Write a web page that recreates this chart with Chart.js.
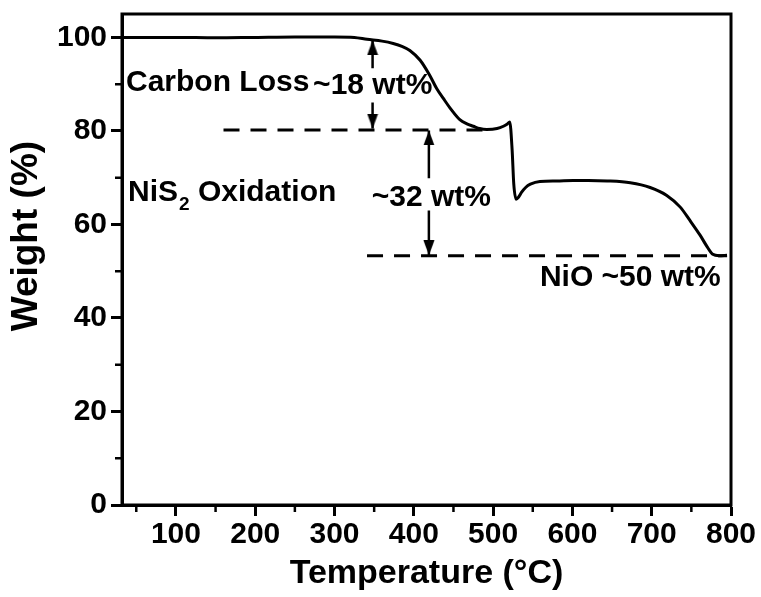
<!DOCTYPE html>
<html>
<head>
<meta charset="utf-8">
<script src="https://cdn.jsdelivr.net/npm/chart.js@4"></script>
<style>
  html, body { margin: 0; padding: 0; background: #fff; }
  #wrap { width: 761px; height: 597px; }
</style>
</head>
<body>
<div id="wrap"><canvas id="tga" width="761" height="597"></canvas></div>
<script>
// TGA curve of the NiS2/carbon sample in air
const temps   = [32, 60, 100, 150, 200, 250, 300, 325, 341, 360, 374, 385, 395, 408, 420, 429, 437, 447, 458, 467, 475, 483, 492, 505, 513, 518, 521, 524, 526, 529, 532, 536, 541, 547, 559, 580, 601, 620, 644, 673, 698, 719, 736, 748, 761, 770, 777, 785, 795];
const weights = [100.0, 100.0, 100.0, 99.9, 100.0, 100.1, 100.1, 100.0, 99.6, 99.2, 98.7, 98.1, 97.2, 95.1, 91.9, 89.0, 87.0, 84.6, 82.4, 81.5, 81.0, 80.5, 80.3, 80.5, 81.0, 81.5, 81.9, 75.9, 68.8, 65.4, 65.8, 66.9, 67.9, 68.6, 69.2, 69.3, 69.4, 69.4, 69.3, 68.9, 67.9, 66.2, 63.7, 60.9, 57.7, 55.2, 53.6, 53.3, 53.4];

// reference levels
const carbonLevel = 80.2;
const nioLevel    = 53.3;
const carbonDashX = [160, 490];
const nioDashX    = [341, 795];

// double arrows: [x, tip top, shaft top end, shaft bottom start, tip bottom]
const carbonArrow = [348, 99.4, 93.4, 86.1, 80.5];
const oxidArrow   = [419, 80.1, 69.9, 63.0, 53.4];

const X_TICKS = [100, 200, 300, 400, 500, 600, 700, 800];
const X_MINOR = [50, 150, 250, 350, 450, 550, 650, 750];
const Y_TICKS = [0, 20, 40, 60, 80, 100];
const Y_MINOR = [10, 30, 50, 70, 90];

// annotation texts: [text, x, y]
const notes = [
  ['Carbon Loss', 37, 90.2],
  ['~18 wt%', 273, 89.6],
  ['~32 wt%', 347, 65.8],
  ['NiO ~50 wt%', 559, 48.7]
];
const nisNote = [39.6, 66.7];

// y axis title sits a bit above the middle of the axis
const yTitle = ['Weight (%)', 27, 57.5];

const FONT = '"Liberation Sans", Arial, sans-serif';

function arrowHead(up) {
  const c = document.createElement('canvas');
  c.width = 12; c.height = 30;
  const g = c.getContext('2d');
  g.fillStyle = '#000';
  g.beginPath();
  if (up) { g.moveTo(6, 15); g.lineTo(0.5, 30); g.lineTo(11.5, 30); }
  else    { g.moveTo(6, 15); g.lineTo(0.5, 0);  g.lineTo(11.5, 0); }
  g.closePath();
  g.fill();
  return c;
}
const headUp = arrowHead(true);
const headDown = arrowHead(false);

function lineSet(points, extra) {
  return Object.assign({
    data: points, borderColor: '#000', borderWidth: 3, pointRadius: 0,
    showLine: true, fill: false
  }, extra || {});
}

function arrowSets(a) {
  const [x, t1, s1, s2, t2] = a;
  return [
    lineSet([{ x, y: t1 }, { x, y: s1 }], { borderWidth: 2.5 }),
    lineSet([{ x, y: s2 }, { x, y: t2 }], { borderWidth: 2.5 }),
    { data: [{ x, y: t1 }], showLine: false, pointStyle: headUp, pointRadius: 6 },
    { data: [{ x, y: t2 }], showLine: false, pointStyle: headDown, pointRadius: 6 }
  ];
}

const frameAndLabels = {
  id: 'frameAndLabels',
  afterDraw(chart) {
    const { ctx, chartArea: a, scales: { x, y } } = chart;
    ctx.save();
    ctx.strokeStyle = '#000';
    ctx.lineWidth = 3;
    ctx.strokeRect(a.left, a.top, a.right - a.left, a.bottom - a.top);

    // minor ticks, pointing out of the frame
    ctx.lineWidth = 2.5;
    ctx.beginPath();
    X_MINOR.forEach(v => {
      const px = x.getPixelForValue(v);
      if (px < a.left) return;
      ctx.moveTo(px, a.bottom); ctx.lineTo(px, a.bottom + 7);
    });
    Y_MINOR.forEach(v => {
      const py = y.getPixelForValue(v);
      ctx.moveTo(a.left, py); ctx.lineTo(a.left - 7, py);
    });
    ctx.stroke();

    ctx.fillStyle = '#000';
    ctx.textBaseline = 'middle';
    ctx.textAlign = 'left';
    ctx.font = 'bold 30px ' + FONT;
    notes.forEach(([t, vx, vy]) => {
      ctx.fillText(t, x.getPixelForValue(vx), y.getPixelForValue(vy));
    });

    // NiS2 with subscript
    let px = x.getPixelForValue(nisNote[0]);
    const py = y.getPixelForValue(nisNote[1]);
    ctx.fillText('NiS', px, py);
    px += ctx.measureText('NiS').width;
    ctx.font = 'bold 19px ' + FONT;
    ctx.fillText('2', px + 1, py + 12);
    px += ctx.measureText('2').width + 1;
    ctx.font = 'bold 30px ' + FONT;
    ctx.fillText(' Oxidation', px, py);

    // rotated y axis title
    ctx.translate(yTitle[1], y.getPixelForValue(yTitle[2]));
    ctx.rotate(-Math.PI / 2);
    ctx.textAlign = 'center';
    ctx.font = 'bold 37px ' + FONT;
    ctx.fillText(yTitle[0], 0, 0);
    ctx.restore();
  }
};

new Chart(document.getElementById('tga'), {
  type: 'scatter',
  data: {
    datasets: [
      lineSet(temps.map((t, i) => ({ x: t, y: weights[i] })), { cubicInterpolationMode: 'monotone' }),
      lineSet(carbonDashX.map(t => ({ x: t, y: carbonLevel })), { borderDash: [16, 11] }),
      lineSet(nioDashX.map(t => ({ x: t, y: nioLevel })), { borderDash: [16, 11] }),
      ...arrowSets(carbonArrow),
      ...arrowSets(oxidArrow)
    ]
  },
  options: {
    responsive: false,
    animation: false,
    layout: { padding: { top: 14, right: 30, left: 0, bottom: 0 } },
    plugins: { legend: { display: false }, tooltip: { enabled: false } },
    scales: {
      x: {
        type: 'linear', min: 32, max: 800,
        afterBuildTicks: s => { s.ticks = X_TICKS.map(v => ({ value: v })); },
        afterFit: s => { s.height = 92; s.paddingLeft = 0; s.paddingRight = 0; },
        grid: { drawOnChartArea: false, drawTicks: true, tickLength: 11, tickWidth: 3, tickColor: '#000' },
        border: { display: true, color: '#000', width: 3 },
        ticks: { color: '#000', font: { family: FONT, size: 30, weight: 'bold' }, padding: 1, maxRotation: 0, autoSkip: false },
        title: { display: true, text: 'Temperature (°C)', color: '#000', font: { family: FONT, size: 34, weight: 'bold' }, padding: { top: 0, bottom: 3 } }
      },
      y: {
        type: 'linear', min: 0, max: 105,
        afterBuildTicks: s => { s.ticks = Y_TICKS.map(v => ({ value: v })); },
        afterFit: s => { s.width = 122; s.paddingTop = 0; s.paddingBottom = 0; },
        grid: { drawOnChartArea: false, drawTicks: true, tickLength: 11, tickWidth: 3, tickColor: '#000' },
        border: { display: true, color: '#000', width: 3 },
        ticks: { color: '#000', font: { family: FONT, size: 30, weight: 'bold' }, padding: 4 },
        title: { display: false }
      }
    }
  },
  plugins: [frameAndLabels]
});
</script>
</body>
</html>
